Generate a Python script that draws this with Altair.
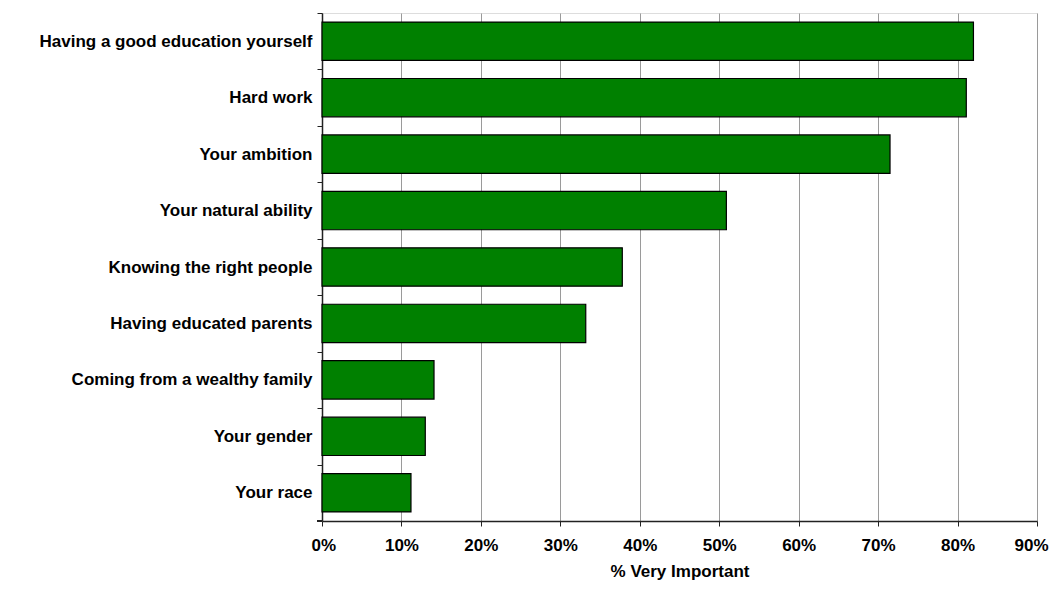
import altair as alt
import pandas as pd

categories = [
    "Having a good education yourself",
    "Hard work",
    "Your ambition",
    "Your natural ability",
    "Knowing the right people",
    "Having educated parents",
    "Coming from a wealthy family",
    "Your gender",
    "Your race",
]
values = [0.82, 0.811, 0.715, 0.509, 0.378, 0.332, 0.141, 0.130, 0.112]
x_ticks = [0, 0.1, 0.2, 0.3, 0.4, 0.5, 0.6, 0.7, 0.8, 0.9]

df = pd.DataFrame({"factor": categories, "value": values})

FONT = "Liberation Sans"
W, H = 715, 508
STEP = H / len(categories)
PAD_IN = 0.32
PAD_OUT = 0.16

bars = alt.Chart(df).mark_bar(
    color="#008000", stroke="#000000", strokeWidth=1.2
).encode(
    x=alt.X(
        "value:Q",
        scale=alt.Scale(domain=[0, 0.9], nice=False),
        axis=alt.Axis(
            values=x_ticks,
            format=".0%",
            title="% Very Important",
            grid=True,
            gridColor="#9a9a9a",
            gridWidth=1,
            domainColor="#222222",
            domainWidth=1.5,
            tickColor="#222222",
            tickSize=5,
            labelFlush=True,
            labelFlushOffset=11,
            labelFont=FONT,
            labelFontSize=17,
            labelFontWeight="bold",
            labelColor="#000000",
            labelPadding=11,
            titleFont=FONT,
            titleFontSize=17,
            titleFontWeight="bold",
            titleColor="#000000",
            titlePadding=10,
        ),
    ),
    y=alt.Y(
        "factor:N",
        sort=categories,
        scale=alt.Scale(paddingInner=PAD_IN, paddingOuter=PAD_OUT),
        axis=alt.Axis(
            title=None,
            grid=False,
            domainColor="#222222",
            domainWidth=1.5,
            tickColor="#222222",
            tickSize=5,
            tickOffset=-STEP / 2,
            labelOffset=STEP / 2,
            labelFont=FONT,
            labelFontSize=17,
            labelFontWeight="bold",
            labelColor="#000000",
            labelPadding=5,
            labelLimit=400,
        ),
    ),
)

corner_tick = alt.Chart(df).mark_rule(color="#222222", strokeWidth=1).encode(
    x=alt.value(-5), x2=alt.value(0), y=alt.value(H)
)

chart = (bars + corner_tick).properties(
    width=W,
    height=H,
    autosize=alt.AutoSizeParams(type="none"),
    padding={"left": 314, "top": 5, "right": 12, "bottom": 60},
).configure_view(stroke="#9a9a9a", strokeWidth=1).configure(background="white")

chart.save("out.html", embed_options={"renderer": "svg", "actions": False})
